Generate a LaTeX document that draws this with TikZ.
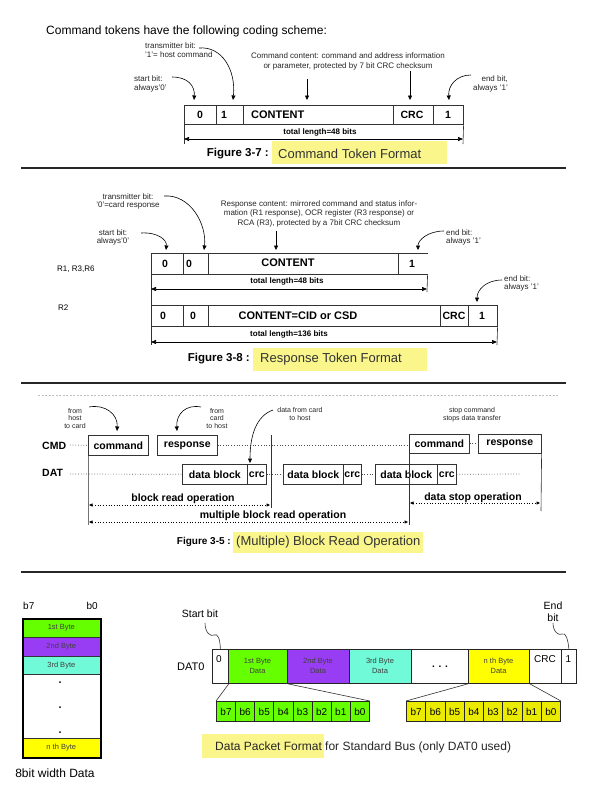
\documentclass[tikz,border=0pt]{standalone}
\usepackage{fontspec}
\setmainfont{Liberation Sans}
\usetikzlibrary{arrows.meta}
\definecolor{hly}{RGB}{250,246,140}
\definecolor{bgreen}{RGB}{102,255,0}
\definecolor{bpurple}{RGB}{153,61,245}
\definecolor{bcyan}{RGB}{112,250,215}
\definecolor{byellow}{RGB}{255,255,0}
\definecolor{bityellow}{RGB}{235,235,0}
\newcommand\fsz[2]{\fontsize{#1}{#2}\selectfont}
\newcommand\cbox[6]{\node[cellbase,fill=#6,minimum width={(#4)-(#2)},minimum height={(#5)-(#3)}] (#1) at (#2,#3) {};}
\begin{document}
\begin{tikzpicture}[x=1pt,y=-1pt,
 cellbase/.style={draw=black!80,line width=0.6pt,inner sep=0pt,anchor=north west},
 txt/.style={inner sep=0pt},
 ann/.style={txt,font=\fsz{8}{8.5},text=black!85},
 boxt/.style={txt,font=\bfseries\fsz{10.5}{12}},
 bigt/.style={txt,font=\bfseries\fsz{11}{13}},
 tl/.style={txt,font=\bfseries\fsz{8}{9}},
 figcap/.style={txt,font=\bfseries\fsz{11.5}{13},anchor=east},
 capt/.style={txt,font=\fsz{13}{15},text=black!80,anchor=west},
 hl/.style={fill=hly,draw=none,inner sep=0pt,anchor=north west},
 rulel/.style={line width=2.5pt,black!85},
 carrow/.style={line width=0.6pt,-{Triangle[length=4.5pt,width=4pt]}},
 darrow/.style={line width=0.6pt,{Triangle[length=5pt,width=4pt]}-{Triangle[length=5pt,width=4pt]}},
 thinl/.style={line width=0.6pt,black!80},
 dotl/.style={dotted,line width=0.7pt,black!70},
 opar/.style={dotted,line width=0.7pt,{Triangle[length=3.5pt,width=3pt]}-{Triangle[length=3.5pt,width=3pt]}},
 optxt/.style={txt,font=\bfseries\fsz{10.5}{12}},
 sml/.style={txt,font=\fsz{7}{7.6},text=black!85,align=center,anchor=north},
 bytet/.style={txt,font=\fsz{7.5}{10},text=black!75,align=center},
 bitt/.style={txt,font=\fsz{10}{12}},
 pkt/.style={txt,font=\fsz{10.5}{12}},
 pcell/.style={cellbase,draw=black!85,line width=0.8pt},
]
\useasboundingbox (0,0) rectangle (590,806);
\fill[white] (0,0) rectangle (590,806);

% ================= Section 1 =================
\node[txt,font=\fsz{12}{14},anchor=west] (title) at (46,31) {Command tokens have the following coding scheme:};
\node[ann,align=left,anchor=north west] (tb1) at (145,43) {transmitter bit:\\'1'= host command};
\node[ann,font=\fsz{8}{10},align=center,anchor=north] (cc1) at (348,53) {Command content: command and address information\\or parameter, protected by 7 bit CRC checksum};
\node[ann,align=left,anchor=north west] (sb1) at (134,76) {start bit:\\always'0'};
\node[ann,align=right,anchor=north east] (eb1) at (508,76) {end bit,\\always '1'};

\cbox{s1a}{184}{105}{216}{124}{white}
\cbox{s1b}{216}{105}{243}{124}{white}
\cbox{s1c}{243}{105}{393}{124}{white}
\cbox{s1d}{393}{105}{433}{124}{white}
\cbox{s1e}{433}{105}{463}{124}{white}
\node[boxt] (s1at) at (200,114.5) {0};
\node[boxt] (s1bt) at (224,114.5) {1};
\node[bigt,anchor=west] (s1ct) at (251,114.5) {CONTENT};
\node[boxt] (s1dt) at (412,114.5) {CRC};
\node[boxt] (s1et) at (448,114.5) {1};

\coordinate (a1s) at (172,77);  \coordinate (a1e) at (194,100);
\coordinate (a2s) at (199,48);  \coordinate (a2e) at (233,100);
\coordinate (a3s) at (307,79);  \coordinate (a3e) at (307,100);
\coordinate (a4s) at (410,71);  \coordinate (a4e) at (410,100);
\coordinate (a5s) at (471,75);  \coordinate (a5e) at (449,100);
\draw[carrow] (a1s) .. controls (188,77) and (195,86) .. (a1e);
\draw[carrow] (a2s) .. controls (222,46) and (236,70) .. (a2e);
\draw[carrow] (a3s) -- (a3e);
\draw[carrow] (a4s) -- (a4e);
\draw[carrow] (a5s) .. controls (456,75) and (448,86) .. (a5e);

\coordinate (s1l) at (184,144); \coordinate (s1r) at (463,144);
\draw[thinl] (s1a.south west) -- (s1l);
\draw[thinl] (s1e.south east) -- (s1r);
\node[tl] (s1len) at (320,132) {total length=48 bits};
\coordinate (s1al) at (184,139); \coordinate (s1ar) at (463,139);
\draw[darrow] (s1al) -- (s1ar);

\node[hl,minimum width=175,minimum height=23] (h1) at (272,141) {};
\node[figcap] (f1) at (269,154) {Figure 3-7 :};
\node[capt] (f1t) at (278,154) {Command Token Format};

\coordinate (ru1a) at (21,168); \coordinate (ru1b) at (566,168);
\draw[rulel] (ru1a) -- (ru1b);

% ================= Section 2 =================
\node[ann,align=center,anchor=north] (tb2) at (128,193) {transmitter bit:\\'0'=card response};
\node[ann,font=\fsz{8}{9.5},align=center,anchor=north] (rc2) at (319,200) {Response content: mirrored command and status infor-\\mation (R1 response), OCR register (R3 response) or\\RCA (R3), protected by a 7bit CRC checksum};
\node[ann,align=center,anchor=north] (sb2) at (113,229) {start bit:\\always'0'};
\node[ann,align=left,anchor=north west] (eb2) at (446,229) {end bit:\\always '1'};

\coordinate (b1s) at (164,196); \coordinate (b1e) at (204,250);
\coordinate (b2s) at (276,231); \coordinate (b2e) at (276,250);
\coordinate (b3s) at (141,233); \coordinate (b3e) at (166,250);
\coordinate (b4s) at (444,231); \coordinate (b4e) at (418,250);
\draw[carrow] (b1s) .. controls (190,194) and (207,224) .. (b1e);
\draw[carrow] (b2s) -- (b2e);
\draw[carrow] (b3s) .. controls (158,232) and (167,240) .. (b3e);
\draw[carrow] (b4s) .. controls (428,231) and (418,240) .. (b4e);

\node[txt,font=\fsz{8}{9},anchor=west] (r1lab) at (57,269) {R1, R3,R6};
\cbox{r1a}{151}{253}{183}{274}{white}
\cbox{r1b}{183}{253}{208}{274}{white}
\cbox{r1c}{208}{253}{398}{274}{white}
\node[cellbase,draw=none,minimum width=29,minimum height=21] (r1d) at (398,253) {};
\draw[thinl] (r1d.north west) -- (r1d.north east);
\draw[thinl] (r1d.south west) -- (r1d.south east);
\node[boxt] (r1at) at (165,263.5) {0};
\node[boxt] (r1bt) at (189,263.5) {0};
\node[bigt] (r1ct) at (288,263) {CONTENT};
\node[boxt] (r1dt) at (412,264) {1};
\coordinate (r1ll) at (151,345); \coordinate (r1rr) at (427,292);
\draw[thinl] (r1a.south west) -- (r1ll);
\draw[thinl] (r1d.south east) -- (r1rr);
\node[tl] (r1len) at (287,281) {total length=48 bits};
\coordinate (r1al) at (151,289); \coordinate (r1ar) at (427,289);
\draw[darrow] (r1al) -- (r1ar);

\node[ann,align=left,anchor=north west] (eb3) at (504,275) {end bit:\\always '1'};
\coordinate (b5s) at (502,280); \coordinate (b5e) at (477,302);
\draw[carrow] (b5s) .. controls (486,280) and (477,290) .. (b5e);

\node[txt,font=\fsz{8}{9},anchor=west] (r2lab) at (58,308) {R2};
\cbox{r2a}{151}{305}{183}{326}{white}
\cbox{r2b}{183}{305}{208}{326}{white}
\cbox{r2c}{208}{305}{440}{326}{white}
\cbox{r2d}{440}{305}{468}{326}{white}
\cbox{r2e}{468}{305}{497}{326}{white}
\node[boxt] (r2at) at (163,316) {0};
\node[boxt] (r2bt) at (193,316) {0};
\node[bigt] (r2ct) at (298,315.5) {CONTENT=CID or CSD};
\node[boxt] (r2dt) at (454,316) {CRC};
\node[boxt] (r2et) at (482,316) {1};
\coordinate (r2rr) at (497,345);
\draw[thinl] (r2e.south east) -- (r2rr);
\node[tl] (r2len) at (289,334) {total length=136 bits};
\coordinate (r2al) at (151,342); \coordinate (r2ar) at (497,342);
\draw[darrow] (r2al) -- (r2ar);

\node[hl,minimum width=174,minimum height=23] (h2) at (253,348) {};
\node[figcap] (f2) at (250,359) {Figure 3-8 :};
\node[capt] (f2t) at (260,359) {Response Token Format};

\coordinate (ru2a) at (21,383); \coordinate (ru2b) at (566,383);
\draw[rulel] (ru2a) -- (ru2b);

% ================= Section 3 =================
\coordinate (fa) at (38,395); \coordinate (fb) at (558,395);
\draw[black!25,line width=0.8pt,dash pattern=on 2pt off 1.5pt] (fa) -- (fb);

\node[sml] (fh) at (75,408) {from\\host\\to card};
\node[sml] (fc) at (217,408) {from\\card\\to host};
\node[sml,font=\fsz{7}{8}] (dfc) at (300,407) {data from card\\to host};
\node[sml,font=\fsz{7}{8}] (sc) at (472,407) {stop command\\stops data transfer};

\node[txt,font=\bfseries\fsz{10.5}{12},anchor=west] (cmdl) at (42,446) {CMD};
\node[txt,font=\bfseries\fsz{10.5}{12},anchor=west] (datl) at (42,473) {DAT};

\cbox{cA}{88}{435}{148}{455}{white}
\cbox{rA}{157}{435}{217}{455}{white}
\cbox{d1}{182}{464}{247}{484}{white}
\cbox{k1}{247}{464}{266}{484}{white}
\cbox{d2}{283}{464}{343}{484}{white}
\cbox{k2}{343}{464}{361}{484}{white}
\cbox{d3}{375}{464}{437}{484}{white}
\cbox{k3}{437}{464}{456}{484}{white}
\cbox{cB}{409}{434}{469}{453}{white}
\cbox{rB}{478}{434}{541}{453}{white}
\node[optxt] (cAt) at (cA) {command};
\node[optxt] (rAt) at (rA) {response};
\node[optxt] (d1t) at (d1) {data block};
\node[optxt] (k1t) at (k1) {crc};
\node[optxt] (d2t) at (d2) {data block};
\node[optxt] (k2t) at (k2) {crc};
\node[optxt] (d3t) at (d3) {data block};
\node[optxt] (k3t) at (k3) {crc};
\node[optxt] (cBt) at (cB) {command};
\node[optxt] (rBt) at (rB) {response};

\coordinate (cm0) at (70,445);
\coordinate (dt0) at (70,474);
\coordinate (dt9) at (520,474);
\draw[dotl] (cm0) -- (cA.west);
\draw[dotl] (rA.east) -- (cB.west |- rA.east);
\draw[dotl] (cB.east) -- (rB.west);
\draw[dotl] (dt0) -- (d1.west);
\draw[dotl] (k1.east) -- (d2.west);
\draw[dotl] (k2.east) -- (d3.west);
\draw[dotl] (k3.east) -- (dt9);

\coordinate (c1) at (89,407);  \coordinate (c1e) at (117,431);
\coordinate (c2) at (201,407); \coordinate (c2e) at (177,431);
\coordinate (c3) at (273,410); \coordinate (c3e) at (250,463);
\draw[carrow] (c1) .. controls (105,404) and (118,414) .. (c1e);
\draw[carrow] (c2) .. controls (186,404) and (176,414) .. (c2e);
\draw[carrow] (c3) .. controls (256,416) and (250,436) .. (c3e);

\coordinate (vAb) at (88,525);
\coordinate (vMt) at (271,435); \coordinate (vMb) at (271,508);
\coordinate (vBb) at (409,525);
\coordinate (vCb) at (541,511);
\draw[line width=0.6pt,black!55] (cA.south west) -- (vAb);
\draw[thinl] (vMt) -- (vMb);
\draw[thinl] (cB.south west) -- (vBb);
\draw[thinl] (rB.south east) -- (vCb);

\node[optxt] (bro) at (183,499) {block read operation};
\node[optxt] (mbro) at (273,516) {multiple block read operation};
\node[optxt] (dso) at (473,498) {data stop operation};
\coordinate (o1a) at (89,505);  \coordinate (o1b) at (270,505);
\coordinate (o2a) at (89,522);  \coordinate (o2b) at (408,522);
\coordinate (o3a) at (410,503); \coordinate (o3b) at (540,503);
\draw[opar] (o1a) -- (o1b);
\draw[opar] (o2a) -- (o2b);
\draw[opar] (o3a) -- (o3b);

\node[hl,minimum width=190,minimum height=21] (h3) at (233,532) {};
\node[figcap,font=\bfseries\fsz{10}{12}] (f3) at (231,542) {Figure 3-5 :};
\node[capt] (f3t) at (236,542) {(Multiple) Block Read Operation};

\coordinate (ru3a) at (21,572); \coordinate (ru3b) at (566,572);
\draw[rulel] (ru3a) -- (ru3b);

% ================= Section 4 =================
\node[bitt,anchor=west] (b7l) at (23,606) {b7};
\node[bitt,anchor=east] (b0l) at (98,606) {b0};
\cbox{st1}{22}{618}{100}{637}{bgreen}
\cbox{st2}{22}{637}{100}{656}{bpurple}
\cbox{st3}{22}{656}{100}{674}{bcyan}
\cbox{st4}{22}{674}{100}{738}{white}
\cbox{st5}{22}{738}{100}{757}{byellow}
\node[draw=black,line width=2.2pt,inner sep=0pt,minimum width=78,minimum height=139,anchor=north west] (stk) at (22,618) {};
\node[bytet] (st1t) at (st1) {1st Byte};
\node[bytet] (st2t) at (st2) {2nd Byte};
\node[bytet] (st3t) at (st3) {3rd Byte};
\node[bytet] (st5t) at (st5) {n th Byte};
\node[circle,fill=black,inner sep=0pt,minimum size=2pt] (sd1) at (60,682) {};
\node[circle,fill=black,inner sep=0pt,minimum size=2pt] (sd2) at (60,707) {};
\node[circle,fill=black,inner sep=0pt,minimum size=2pt] (sd3) at (60,732) {};
\node[txt,font=\fsz{12}{14}] (wd) at (55,773) {8bit width Data};

\node[pkt] (stb) at (200,614) {Start bit};
\node[pkt,align=center] (enb) at (553,612) {End\\bit};
\node[txt,font=\fsz{11}{13},anchor=west] (dat0) at (177,667) {DAT0};

\node[pcell,fill=white,minimum width=16,minimum height=34] (z0) at (212,649) {};
\node[pcell,fill=bgreen,minimum width=59,minimum height=34] (g1) at (228,649) {};
\node[pcell,fill=bpurple,minimum width=62,minimum height=34] (p2) at (287,649) {};
\node[pcell,fill=bcyan,minimum width=62,minimum height=34] (c3) at (349,649) {};
\node[pcell,fill=white,minimum width=57,minimum height=34] (dt) at (411,649) {};
\node[pcell,fill=byellow,minimum width=61,minimum height=34] (y8) at (468,649) {};
\node[pcell,fill=white,minimum width=32,minimum height=34] (cr) at (529,649) {};
\node[pcell,fill=white,minimum width=15,minimum height=34] (e1) at (561,649) {};
\node[bitt] (z0t) at (219,659) {0};
\node[bytet] (g1t) at (257.5,666) {1st Byte\\Data};
\node[bytet] (p2t) at (318,666) {2nd Byte\\Data};
\node[bytet] (c3t) at (380,666) {3rd Byte\\Data};
\node[txt,font=\bfseries\fsz{10}{12}] (dtt) at (440,667) {. . .};
\node[bytet] (y8t) at (498.5,666) {n th Byte\\Data};
\node[bitt] (crt) at (545,659) {CRC};
\node[bitt] (e1t) at (568.5,659) {1};

\coordinate (sq1) at (205,623);
\coordinate (sq2) at (553,623);
\draw[thinl] (sq1) .. controls (205,633) and (211,637) .. (214,635) .. controls (218,633) and (220,639) .. (z0.north);
\draw[thinl] (sq2) .. controls (553,632) and (559,636) .. (562,634) .. controls (566,632) and (568,640) .. (e1.north);

\foreach \b [count=\n from 0] in {7,6,5,4,3,2,1,0} {
  \pgfmathsetmacro\xa{216+\n*19.125}
  \node[cellbase,draw=black!85,line width=0.9pt,fill=bgreen,minimum width=19.125,minimum height=20] (gb\b) at (\xa,701) {};
  \node[bitt] (gbt\b) at (gb\b) {b\b};
  \pgfmathsetmacro\ya{406+\n*19.25}
  \node[cellbase,draw=black!85,line width=0.9pt,fill=bityellow,minimum width=19.25,minimum height=20] (yb\b) at (\ya,701) {};
  \node[bitt] (ybt\b) at (yb\b) {b\b};
}
\draw[thinl] (z0.south east) -- (gb7.north west);
\draw[thinl] (g1.south east) -- (gb0.north east);
\draw[thinl] (y8.south west) -- (yb7.north west);
\draw[thinl] (y8.south east) -- (yb0.north east);

\node[hl,minimum width=122,minimum height=24] (h4) at (202,734) {};
\node[txt,font=\fsz{12}{14},text=black!85,anchor=west] (pkc) at (215,747) {Data Packet Format for Standard Bus (only DAT0 used)};
\end{tikzpicture}
\end{document}
